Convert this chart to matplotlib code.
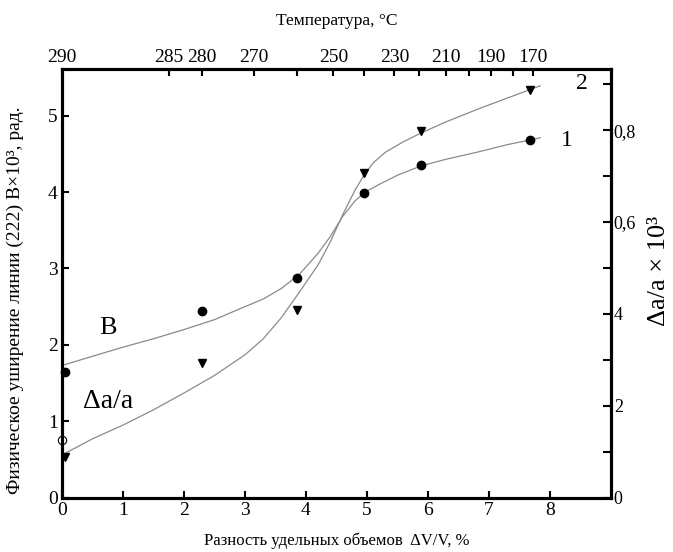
import numpy as np
import matplotlib.pyplot as plt

plt.rcParams['font.family'] = ['Liberation Serif', 'DejaVu Serif']

# measured points (x = dV/V, %)
x_pts = [0.05, 2.3, 3.85, 4.95, 5.88, 7.67]
b_pts = [1.65, 2.44, 2.88, 3.99, 4.35, 4.68]        # curve 1, B x 10^3
da_pts = [0.53, 1.76, 2.45, 4.25, 4.80, 5.33]       # curve 2, da/a
open_x = [0.0]
open_y = [0.76]

# smooth curves as drawn on the figure
b_curve_x = [0, 0.5, 1, 1.5, 2, 2.5, 3, 3.3, 3.6, 3.9, 4.2, 4.4, 4.6, 4.8, 4.95,
             5.2, 5.5, 5.88, 6.3, 6.8, 7.3, 7.84]
b_curve_y = [1.73, 1.85, 1.97, 2.08, 2.2, 2.33, 2.5, 2.6, 2.74, 2.93, 3.2, 3.42, 3.68,
             3.88, 3.99, 4.1, 4.22, 4.34, 4.43, 4.52, 4.62, 4.71]
da_curve_x = [0.05, 0.5, 1, 1.5, 2, 2.5, 3, 3.3, 3.6, 3.9, 4.2, 4.4, 4.6, 4.8, 4.95,
              5.1, 5.3, 5.6, 5.88, 6.3, 6.8, 7.3, 7.84]
da_curve_y = [0.58, 0.77, 0.95, 1.15, 1.37, 1.6, 1.87, 2.08, 2.36, 2.7, 3.05, 3.35, 3.7,
              4.02, 4.22, 4.38, 4.52, 4.66, 4.77, 4.92, 5.08, 5.23, 5.39]

# top axis: temperature
temp_pos = [0, 1.75, 2.3, 3.15, 3.85, 4.45, 4.95, 5.45, 5.85, 6.3, 6.68, 7.03, 7.4, 7.72]
temp_labels = ['290', '285', '280', '270', '', '250', '', '230', '', '210', '', '190', '', '170']

# right axis
right_ticks = [0, 0.2, 0.4, 0.6, 0.8]
right_labels = ['0', '2', '4', '0,6', '0,8']

fig = plt.figure(figsize=(6.73, 5.52), dpi=100)
ax = fig.add_axes([0.0921, 0.0984, 0.8158, 0.7766])

ax.plot(b_curve_x, b_curve_y, color='#8a8a8a', lw=0.9)
ax.plot(da_curve_x, da_curve_y, color='#8a8a8a', lw=0.9)
ax.plot(x_pts, b_pts, 'o', color='black', ms=6, clip_on=False)
ax.plot(x_pts, da_pts, 'v', color='black', ms=6, clip_on=False)
ax.plot(open_x, open_y, 'o', mfc='white', mec='black', mew=0.8, ms=6, clip_on=False, zorder=5)

ax.text(0.75, 2.22, 'B', fontsize=19, ha='center', va='center')
ax.text(0.75, 1.26, 'Δa/a', fontsize=20, ha='center', va='center')
ax.text(8.27, 4.68, '1', fontsize=17, ha='center', va='center')
ax.text(8.52, 5.42, '2', fontsize=17, ha='center', va='center')

ax.set_xlim(0, 9)
ax.set_ylim(0, 5.61)
ax.set_xticks(range(0, 9))
ax.set_yticks(range(0, 6))
ax.tick_params(direction='in', length=5, width=1.5, labelsize=14, pad=3)
ax.set_xlabel('Разность удельных объемов  ΔV/V, %', fontsize=12, labelpad=10)
ax.set_ylabel('Физическое уширение линии (222) B×10³, рад.', fontsize=14)
ax.yaxis.set_label_coords(-0.07, 0.46)
for s in ax.spines.values():
    s.set_linewidth(2.2)

top = ax.twiny()
top.set_xlim(0, 9)
top.set_xticks(temp_pos)
top.set_xticklabels(temp_labels)
top.tick_params(direction='in', length=5, width=1.5, labelsize=14, pad=2)
top.set_xlabel('Температура, °C', fontsize=12.5)
top.xaxis.set_label_coords(0.5, 1.103)

right = ax.twinx()
right.set_ylim(0, 0.933)
right.set_yticks(right_ticks)
right.set_yticklabels(right_labels)
right.set_yticks(np.arange(0.1, 0.91, 0.2), minor=True)
right.tick_params(which='both', direction='in', length=6, width=1.5, labelsize=13, pad=2)
right.text(1.087, 0.53, 'Δa/a × 10³', transform=right.transAxes, rotation=90,
           fontsize=19, ha='center', va='center')

for a in (top, right):
    for s in a.spines.values():
        s.set_linewidth(2.2)

plt.savefig('out.png', dpi=100)
